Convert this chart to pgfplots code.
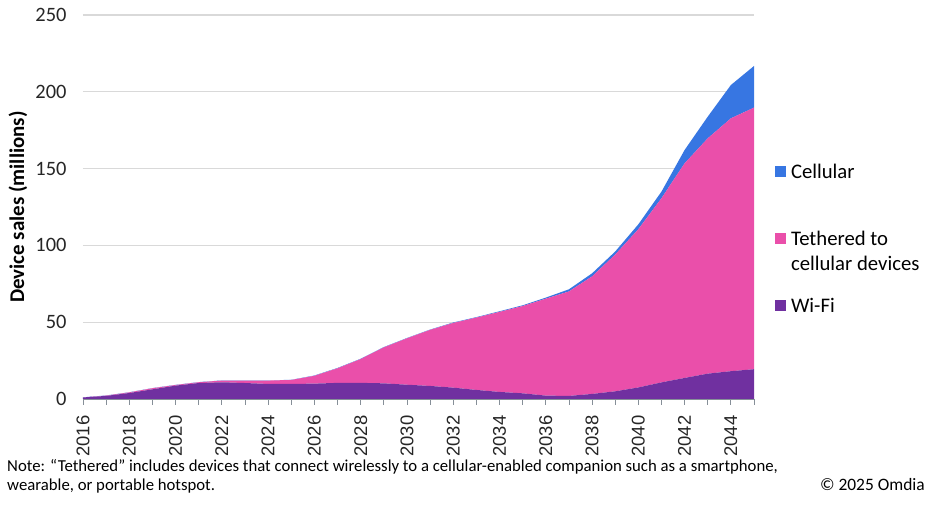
\documentclass[border=0pt]{standalone}
\usepackage{fontspec}
\setmainfont{Carlito}
\newfontfamily\arialf{Liberation Sans}
\usepackage{pgfplots}
\pgfplotsset{compat=1.18}
\usepackage{pgfplotstable}
\definecolor{wifi}{RGB}{112,48,160}
\definecolor{teth}{RGB}{234,79,170}
\definecolor{cell}{RGB}{55,118,226}
\definecolor{gridc}{RGB}{217,217,217}
\definecolor{axc}{RGB}{134,143,152}
\pgfplotstableread{
year wifi teth cell
2016 1.0 0.0 0.1
2017 2.0 0.2 0.1
2018 3.9 0.4 0.1
2019 6.3 0.7 0.1
2020 8.7 0.4 0.1
2021 10.4 0.5 0.1
2022 10.9 1.1 0.1
2023 10.4 1.6 0.1
2024 9.8 2.2 0.1
2025 9.8 2.6 0.1
2026 10.0 5.1 0.2
2027 10.5 9.5 0.2
2028 10.5 15.5 0.2
2029 10.2 23.4 0.2
2030 9.3 30.2 0.2
2031 8.5 36.5 0.2
2032 7.4 42.1 0.3
2033 5.9 47.1 0.3
2034 4.6 52.1 0.4
2035 3.7 56.8 0.5
2036 2.2 63.1 0.7
2037 2.0 68.0 1.4
2038 3.3 76.5 2.0
2039 5.0 89.0 2.0
2040 7.5 103.0 3.2
2041 10.8 119.9 4.3
2042 13.7 139.7 8.7
2043 16.5 153.2 14.1
2044 18.1 164.6 21.7
2045 19.4 170.3 27.1
}\data
\begin{document}
\begin{tikzpicture}[x=1bp,y=1bp]
\useasboundingbox (-83,-110) rectangle (851,399);
\begin{axis}[at={(0,0)}, anchor=south west, scale only axis,
  width=671bp, height=384bp,
  xmin=2016, xmax=2045, ymin=0, ymax=250,
  stack plots=y,
  axis x line*=bottom, axis y line*=left,
  y axis line style={draw=none},
  ytick style={draw=none},
  x axis line style={axc, line width=0.8bp},
  xtick style={axc, line width=0.8bp},
  tick align=outside,
  major tick length=6bp, minor tick length=6bp,
  xtick={2016,2018,...,2044},
  minor xtick={2017,2019,...,2045},
  ytick={0,50,...,250},
  ymajorgrids, grid style={gridc, line width=1.2bp},
  /pgf/number format/1000 sep={},
  /pgf/number format/assume math mode=true,
  tick label style={text=black!85},
  xticklabel={\arialf\fontsize{18.5}{21}\selectfont\pgfmathprintnumber{\tick}\kern7bp},
  xticklabel style={rotate=90, anchor=east},
  yticklabel style={anchor=east, xshift=-7bp, font=\fontsize{20.5}{24}\selectfont},
  ylabel={\textbf{Device sales (millions)}},
  ylabel style={font=\fontsize{21}{24}\selectfont, at={(axis description cs:-0.0969,0.5)}, anchor=center},
  reverse legend,
  legend cell align=left,
  legend image code/.code={\fill[#1] (0bp,-5.5bp) rectangle (11bp,5.5bp);},
  legend style={draw=none, fill=none, inner sep=0pt, outer sep=0pt,
    font=\fontsize{20.8}{25}\selectfont,
    at={(axis description cs:1,0.418)}, anchor=west, xshift=21bp,
    row sep=49bp, column sep=3bp,
    nodes={inner sep=2bp, text height=14bp, text depth=0bp}},
]
\addplot[fill=wifi, draw=none] table[x=year,y=wifi]{\data} \closedcycle;
\addplot[fill=teth, draw=none] table[x=year,y=teth]{\data} \closedcycle;
\addplot[fill=cell, draw=none] table[x=year,y=cell]{\data} \closedcycle;
\legend{Wi-Fi, {\begin{tabular}[t]{@{}l@{}}Tethered to\\cellular devices\end{tabular}}, Cellular}
\end{axis}
\node[anchor=base west, inner sep=0pt, font=\fontsize{16.8}{19}\selectfont] at (-76,-73) {Note: “Tethered” includes devices that connect wirelessly to a cellular-enabled companion such as a smartphone,};
\node[anchor=base west, inner sep=0pt, font=\fontsize{16.8}{19}\selectfont] at (-76,-92) {wearable, or portable hotspot.};
\node[anchor=base east, inner sep=0pt, font=\fontsize{17.5}{19}\selectfont] at (842,-92) {© 2025 Omdia};
\end{tikzpicture}
\end{document}
